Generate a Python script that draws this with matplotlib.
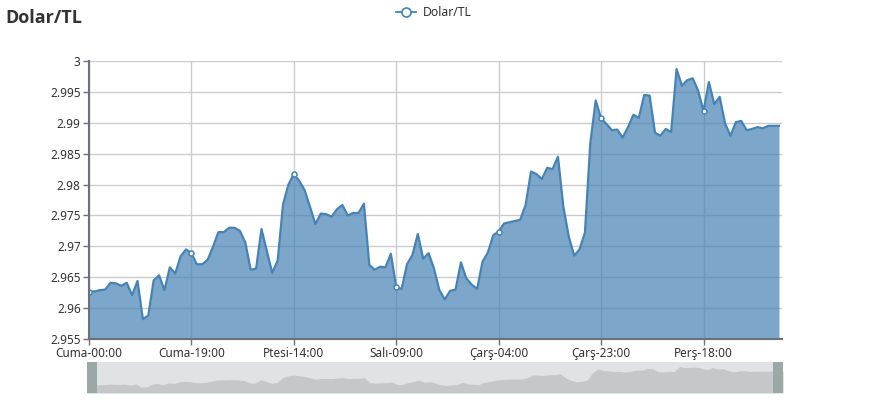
import matplotlib
matplotlib.use("Agg")
import matplotlib.pyplot as plt
from matplotlib.patches import Rectangle
from matplotlib.lines import Line2D
import numpy as np

# ---------------- data ----------------
title = "Dolar/TL"
series_name = "Dolar/TL"
days = ["Cuma", "Ptesi", "Salı", "Çarş", "Perş", "Cuma"]
hours_per_day = [24, 24, 24, 24, 24, 9]
categories = [f"{d}-{h:02d}:00" for d, n in zip(days, hours_per_day) for h in range(n)]

values = [
    2.9626, 2.9627, 2.9629, 2.9630, 2.9641, 2.9640, 2.9636, 2.9641, 2.9621, 2.9644,
    2.9582, 2.9588, 2.9645, 2.9653, 2.9629, 2.9666, 2.9656, 2.9684, 2.9695, 2.9689,
    2.9671, 2.9671, 2.9678, 2.9699, 2.9723, 2.9723, 2.9730, 2.9730, 2.9725, 2.9706,
    2.9662, 2.9664, 2.9728, 2.9692, 2.9657, 2.9677, 2.9768, 2.9800, 2.9817, 2.9806,
    2.9791, 2.9764, 2.9736, 2.9753, 2.9752, 2.9748, 2.9760, 2.9767, 2.9750, 2.9754,
    2.9754, 2.9769, 2.9670, 2.9662, 2.9667, 2.9666, 2.9688, 2.9634, 2.9631, 2.9671,
    2.9686, 2.9720, 2.9680, 2.9689, 2.9664, 2.9629, 2.9614, 2.9628, 2.9630, 2.9674,
    2.9648, 2.9638, 2.9631, 2.9675, 2.9690, 2.9718, 2.9724, 2.9737, 2.9739, 2.9741,
    2.9743, 2.9767, 2.9821, 2.9817, 2.9809, 2.9827, 2.9825, 2.9845, 2.9764, 2.9716,
    2.9685, 2.9695, 2.9722, 2.9867, 2.9936, 2.9907, 2.9898, 2.9888, 2.9889, 2.9876,
    2.9893, 2.9913, 2.9908, 2.9945, 2.9944, 2.9884, 2.9879, 2.9890, 2.9885, 2.9987,
    2.9960, 2.9969, 2.9972, 2.9952, 2.9919, 2.9966, 2.9930, 2.9942, 2.9899, 2.9879,
    2.9901, 2.9903, 2.9888, 2.9890, 2.9893, 2.9891, 2.9895, 2.9895, 2.9895,
]
y_ticks = [2.955, 2.96, 2.965, 2.97, 2.975, 2.98, 2.985, 2.99, 2.995, 3.0]
label_interval = 19

# ---------------- style ----------------
plt.rcParams['font.family'] = ['Noto Sans', 'DejaVu Sans']
W, H = 870, 400
fig = plt.figure(figsize=(W / 100, H / 100), dpi=100)

line_color = '#4682b4'
text_color = '#333333'
axis_color = '#6e7079'
grid_color = '#cccccc'

def px(x0, y0, x1, y1):
    return [x0 / W, 1 - y1 / H, (x1 - x0) / W, (y1 - y0) / H]

ax = fig.add_axes(px(89, 61, 782, 339))
x = np.arange(len(values))
vals = np.array(values)

ax.fill_between(x, vals, y_ticks[0], color=line_color, alpha=0.7, lw=0, zorder=2)
ax.plot(x, vals, color=line_color, lw=1.6, zorder=3, solid_joinstyle='round')
tick_idx = x[::label_interval]
ax.plot(tick_idx, vals[::label_interval], ls='none', marker='o', ms=3.6,
        mfc='white', mec=line_color, mew=1.1, zorder=4)

ax.set_xlim(0, (len(values) - 1) + 0.56)
ax.set_ylim(y_ticks[0], y_ticks[-1])
ax.set_yticks(y_ticks)
ax.set_yticklabels([f"{v:.3f}".rstrip('0').rstrip('.') for v in y_ticks])
ax.set_xticks(tick_idx)
ax.set_xticklabels([categories[i] for i in tick_idx])

ax.grid(True, color=grid_color, lw=1, zorder=1)
ax.set_axisbelow(True)
for s in ['top', 'right']:
    ax.spines[s].set_visible(False)
for s in ['left', 'bottom']:
    ax.spines[s].set_color(axis_color)
    ax.spines[s].set_linewidth(1.5)
    ax.spines[s].set_zorder(5)
ax.tick_params(axis='both', colors=axis_color, length=4, width=1,
               labelcolor=text_color, labelsize=8.5)
ax.tick_params(axis='y', pad=2)
ax.tick_params(axis='x', pad=2)

# title
fig.text(5 / W, 1 - 18 / H, title, fontsize=13, fontweight='bold',
         family=['Open Sans', 'DejaVu Sans'],
         color=text_color, va='center', ha='left')

# legend
ly = 1 - 12 / H
fig.add_artist(Line2D([396 / W, 416 / W], [ly, ly], color=line_color, lw=1.3,
                      transform=fig.transFigure))
fig.add_artist(Line2D([406 / W], [ly], marker='o', ms=6.5, mfc='white',
                      mec=line_color, mew=1.2, transform=fig.transFigure))
fig.text(423 / W, ly, series_name, fontsize=8.8, color=text_color, va='center', ha='left')

# data zoom slider
sax = fig.add_axes(px(87, 362, 783, 393))
sax.set_facecolor('#e0e3e6')
r = vals.max() - vals.min()
sax.set_ylim(vals.min() - 0.28 * r, vals.max() + 0.21 * r)
sax.set_xlim(0, len(values) - 1)
sax.fill_between(x, vals, vals.min() - 0.28 * r, color='#c5c8cb', lw=0)
for s in sax.spines.values():
    s.set_visible(False)
sax.set_xticks([])
sax.set_yticks([])
hw = 10 / 696
sax.add_patch(Rectangle((0, 0), hw, 1, transform=sax.transAxes,
                        color='#9aa8a6', lw=0, zorder=5, clip_on=False))
sax.add_patch(Rectangle((1 - hw, 0), hw, 1, transform=sax.transAxes,
                        color='#9aa8a6', lw=0, zorder=5, clip_on=False))

fig.savefig('out.png', dpi=100)
